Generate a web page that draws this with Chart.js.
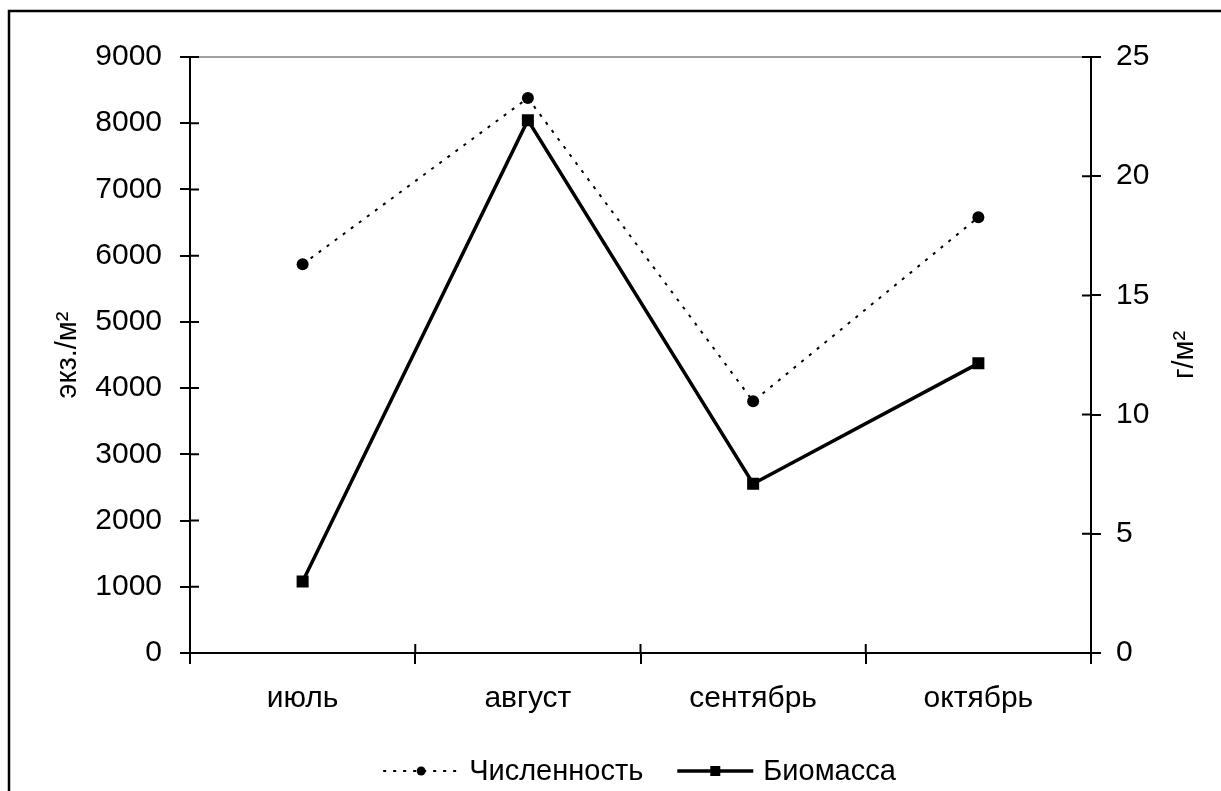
<!DOCTYPE html>
<html lang="ru">
<head>
<meta charset="utf-8">
<script src="https://cdn.jsdelivr.net/npm/chart.js@4.4.1/dist/chart.umd.min.js"></script>
<style>
  html, body { margin: 0; padding: 0; background: #fff; }
  #wrap { width: 1221px; height: 791px; }
</style>
</head>
<body>
<div id="wrap"><canvas id="chart" width="1221" height="791"></canvas></div>
<script>
const months = ['июль', 'август', 'сентябрь', 'октябрь'];
const abundance = [5870, 8380, 3800, 6580];   // Численность, экз./м2
const biomass = [3.0, 22.35, 7.1, 12.15];      // Биомасса, г/м2
const leftTicks = [0, 1000, 2000, 3000, 4000, 5000, 6000, 7000, 8000, 9000];
const rightTicks = [0, 5, 10, 15, 20, 25];

const FONT = "'Liberation Sans', Arial, sans-serif";

// white background, outer frame and the grey top edge of the plot area
const frame = {
  id: 'frame',
  beforeDraw(chart) {
    const { ctx, chartArea: a } = chart;
    ctx.save();
    ctx.fillStyle = '#fff';
    ctx.fillRect(0, 0, chart.width, chart.height);
    ctx.strokeStyle = '#000';
    ctx.lineWidth = 2.5;
    ctx.strokeRect(9, 11, chart.width + 40, chart.height + 40);
    ctx.strokeStyle = '#808080';
    ctx.lineWidth = 1.5;
    ctx.beginPath();
    ctx.moveTo(a.left, a.top);
    ctx.lineTo(a.right, a.top);
    ctx.stroke();
    ctx.restore();
  }
};

// tick marks cross the axis lines, so add the inner half
const innerTicks = {
  id: 'innerTicks',
  beforeDatasetsDraw(chart) {
    const { ctx, scales: { x, y, y1 } } = chart;
    const len = 9;
    ctx.save();
    ctx.strokeStyle = '#000';
    ctx.lineWidth = 2;
    ctx.beginPath();
    y.ticks.forEach((t, i) => {
      const py = y.getPixelForTick(i);
      ctx.moveTo(y.right, py);
      ctx.lineTo(y.right + len, py);
    });
    y1.ticks.forEach((t, i) => {
      const py = y1.getPixelForTick(i);
      ctx.moveTo(y1.left, py);
      ctx.lineTo(y1.left - len, py);
    });
    const n = x.ticks.length;
    for (let i = 0; i <= n; i++) {
      const px = x.left + x.width * i / n;
      ctx.moveTo(px, x.top);
      ctx.lineTo(px, x.top - len);
    }
    ctx.stroke();
    ctx.restore();
  }
};

// right axis title reads bottom-to-top like the left one
const rightTitle = {
  id: 'rightTitle',
  afterDraw(chart) {
    const { ctx, chartArea: a, scales: { y1 } } = chart;
    ctx.save();
    ctx.translate(y1.right - 36, (a.top + a.bottom) / 2);
    ctx.rotate(-Math.PI / 2);
    ctx.font = `29px ${FONT}`;
    ctx.fillStyle = '#000';
    ctx.textAlign = 'center';
    ctx.textBaseline = 'middle';
    ctx.fillText('г/м²', 0, 0);
    ctx.restore();
  }
};

// legend with line samples and a marker in the middle
const lineLegend = {
  id: 'lineLegend',
  afterDraw(chart) {
    const { ctx, chartArea: a } = chart;
    const sample = 76, gap = 10, between = 34;
    ctx.save();
    ctx.font = `29px ${FONT}`;
    const items = chart.data.datasets.map(ds => ({ ds, w: ctx.measureText(ds.label).width }));
    const total = items.reduce((s, it) => s + sample + gap + it.w, 0) + between * (items.length - 1);
    let x = (a.left + a.right) / 2 - 1 - total / 2;
    const y = 771;
    items.forEach(({ ds, w }) => {
      ctx.strokeStyle = ds.borderColor;
      ctx.lineWidth = ds.legendLineWidth;
      ctx.setLineDash(ds.borderDash || []);
      ctx.beginPath();
      ctx.moveTo(x, y);
      ctx.lineTo(x + sample, y);
      ctx.stroke();
      ctx.setLineDash([]);
      ctx.fillStyle = ds.pointBackgroundColor;
      const cx = x + sample / 2;
      if (ds.pointStyle === 'rect') {
        ctx.fillRect(cx - 5, y - 5, 10, 10);
      } else {
        ctx.beginPath();
        ctx.arc(cx, y, 4.5, 0, Math.PI * 2);
        ctx.fill();
      }
      ctx.fillStyle = '#000';
      ctx.textAlign = 'left';
      ctx.textBaseline = 'middle';
      ctx.fillText(ds.label, x + sample + gap, y + 1);
      x += sample + gap + w + between;
    });
    ctx.restore();
  }
};

const tickFont = { family: FONT, size: 30 };
const plain = v => String(v);

new Chart(document.getElementById('chart'), {
  type: 'line',
  data: {
    labels: months,
    datasets: [
      {
        label: 'Численность',
        data: abundance,
        yAxisID: 'y',
        borderColor: '#000',
        borderWidth: 2,
        legendLineWidth: 2,
        borderDash: [3, 7],
        pointStyle: 'circle',
        pointRadius: 6,
        pointBackgroundColor: '#000',
        pointBorderWidth: 0,
        tension: 0
      },
      {
        label: 'Биомасса',
        data: biomass,
        yAxisID: 'y1',
        borderColor: '#000',
        borderWidth: 3.5,
        legendLineWidth: 3.5,
        pointStyle: 'rect',
        pointRadius: 8.5,
        pointBackgroundColor: '#000',
        pointBorderWidth: 0,
        tension: 0
      }
    ]
  },
  options: {
    responsive: false,
    devicePixelRatio: 1,
    animation: false,
    layout: { padding: { top: 57, left: 0, right: 0, bottom: 0 } },
    plugins: {
      legend: { display: false },
      tooltip: { enabled: false }
    },
    scales: {
      x: {
        type: 'category',
        offset: true,
        grid: { offset: true, drawOnChartArea: false, color: '#000', lineWidth: 2, tickLength: 11 },
        border: { color: '#000', width: 2 },
        ticks: { color: '#000', font: tickFont, padding: 17, maxRotation: 0 },
        afterFit(s) { s.height = 138; }
      },
      y: {
        position: 'left',
        min: leftTicks[0],
        max: leftTicks[leftTicks.length - 1],
        ticks: { stepSize: leftTicks[1] - leftTicks[0], color: '#000', font: tickFont, padding: 18, callback: plain },
        grid: { drawOnChartArea: false, color: '#000', lineWidth: 2, tickLength: 10 },
        border: { color: '#000', width: 2 },
        title: {
          display: true,
          text: 'экз./м²',
          color: '#000',
          font: { family: FONT, size: 29 },
          padding: { top: 51, bottom: 0 }
        },
        afterFit(s) { s.width = 190; }
      },
      y1: {
        position: 'right',
        min: rightTicks[0],
        max: rightTicks[rightTicks.length - 1],
        ticks: { stepSize: rightTicks[1] - rightTicks[0], color: '#000', font: tickFont, padding: 15, callback: plain },
        grid: { drawOnChartArea: false, color: '#000', lineWidth: 2, tickLength: 10 },
        border: { color: '#000', width: 2 },
        afterFit(s) { s.width = 130; }
      }
    }
  },
  plugins: [frame, innerTicks, rightTitle, lineLegend]
});
</script>
</body>
</html>
